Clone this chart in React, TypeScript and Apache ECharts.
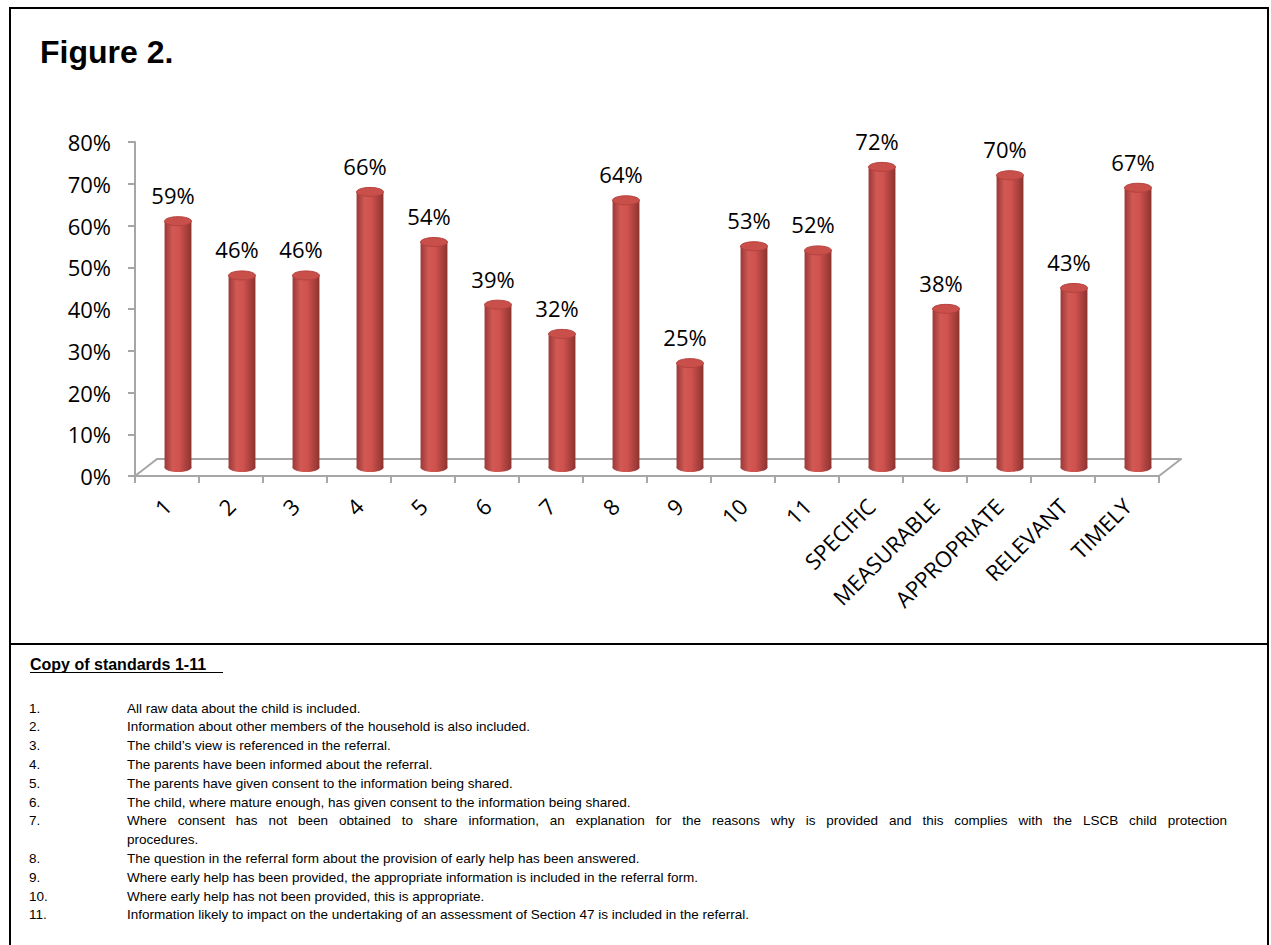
import React, { useEffect, useRef } from "react";
import * as echarts from "echarts";

const categories = ["1", "2", "3", "4", "5", "6", "7", "8", "9", "10", "11", "SPECIFIC", "MEASURABLE", "APPROPRIATE", "RELEVANT", "TIMELY"];
const values = [59, 46, 46, 66, 54, 39, 32, 64, 25, 53, 52, 72, 38, 70, 43, 67];
const yMin = 0;
const yMax = 80;
const yStep = 10;
const title = "Figure 2.";
const listHeading = "Copy of standards 1-11";
const standardNumbers = ["1.", "2.", "3.", "4.", "5.", "6.", "7.", "", "8.", "9.", "10.", "11."];
const standardLines = [
  "All raw data about the child is included.",
  "Information about other members of the household is also included.",
  "The child\u2019s view is referenced in the referral.",
  "The parents have been informed about the referral.",
  "The parents have given consent to the information being shared.",
  "The child, where mature enough, has given consent to the information being shared.",
  "Where consent has not been obtained to share information, an explanation for the reasons why is provided and this complies with the LSCB child protection",
  "procedures.",
  "The question in the referral form about the provision of early help has been answered.",
  "Where early help has been provided, the appropriate information is included in the referral form.",
  "Where early help has not been provided, this is appropriate.",
  "Information likely to impact on the undertaking of an assessment of Section 47 is included in the referral.",
];
const justifiedLine = 6;

const CHART_FONT = "'Open Sans', sans-serif";
const DOC_FONT = "'Liberation Sans', Arial, sans-serif";
const AXIS_GRAY = "#a6a6a6";

export default function App() {
  const ref = useRef<HTMLDivElement>(null);
  useEffect(() => {
    if (!ref.current) return;
    const chart = echarts.init(ref.current, undefined, { renderer: "svg" });

    const listFontSize = 13.5;
    const listFont = `${listFontSize}px 'Liberation Sans', Arial, sans-serif`;
    const ctx = document.createElement("canvas").getContext("2d")!;
    ctx.font = listFont;

    const listTop = 708;
    const listStep = 18.8;
    const numX = 29;
    const textX = 127;
    const textRight = 1227;

    const textStyle = (text: string) => ({
      text, fontFamily: DOC_FONT, fontSize: listFontSize, fill: "#000", textVerticalAlign: "middle",
    });

    const listGraphics: any[] = [];
    standardLines.forEach((line, i) => {
      const y = listTop + i * listStep;
      if (standardNumbers[i]) {
        listGraphics.push({ type: "text", x: numX, y, style: textStyle(standardNumbers[i]) });
      }
      if (i === justifiedLine) {
        const words = line.split(" ");
        const widths = words.map((w) => ctx.measureText(w).width);
        const total = widths.reduce((a, b) => a + b, 0);
        const gap = (textRight - textX - total) / (words.length - 1);
        let x = textX;
        words.forEach((w, k) => {
          listGraphics.push({ type: "text", x, y, style: textStyle(w) });
          x += widths[k] + gap;
        });
      } else {
        listGraphics.push({ type: "text", x: textX, y, style: textStyle(line) });
      }
    });

    const barGradient = () =>
      new echarts.graphic.LinearGradient(0, 0, 1, 0, [
        { offset: 0, color: "#9a3936" },
        { offset: 0.3, color: "#d25955" },
        { offset: 0.55, color: "#cf524e" },
        { offset: 1, color: "#8c3330" },
      ]);

    const option: any = {
      animation: false,
      backgroundColor: "#ffffff",
      grid: [
        { left: 135, right: 112, top: 142, bottom: 469 },
        { left: 146, right: 101, top: 133.5, bottom: 477.5 },
        { left: 157, right: 90, top: 125, bottom: 486 },
      ],
      xAxis: [
        {
          gridIndex: 0, type: "category", data: categories,
          axisLine: { lineStyle: { color: AXIS_GRAY, width: 2 } },
          axisTick: { show: true, length: 7, lineStyle: { color: AXIS_GRAY, width: 2 } },
          axisLabel: { interval: 0, rotate: 45, margin: 26, fontFamily: CHART_FONT, fontSize: 22, color: "#000" },
          splitLine: { show: false },
        },
        { gridIndex: 1, type: "category", data: categories, show: false },
        {
          gridIndex: 2, type: "category", data: categories,
          axisLine: { lineStyle: { color: AXIS_GRAY, width: 2 } },
          axisTick: { show: false }, axisLabel: { show: false }, splitLine: { show: false },
        },
      ],
      yAxis: [
        {
          gridIndex: 0, type: "value", min: yMin, max: yMax, interval: yStep,
          axisLine: { show: true, lineStyle: { color: AXIS_GRAY, width: 2 } },
          axisTick: { show: true, length: 7, lineStyle: { color: AXIS_GRAY, width: 2 } },
          axisLabel: { formatter: "{value}%", margin: 24, fontFamily: CHART_FONT, fontSize: 22, color: "#000" },
          splitLine: { show: false },
        },
        { gridIndex: 1, type: "value", min: yMin, max: yMax, show: false, splitLine: { show: false } },
        { gridIndex: 2, type: "value", min: yMin, max: yMax, show: false, splitLine: { show: false } },
      ],
      series: [
        {
          type: "custom",
          xAxisIndex: 1,
          yAxisIndex: 1,
          data: values.map((v, i) => [i, v]),
          renderItem: (params: any, api: any) => {
            const idx = api.value(0);
            const v = api.value(1);
            const top = api.coord([idx, v]);
            const base = api.coord([idx, 0]);
            const band = api.size([1, 0])[0];
            const w = band * 0.42;
            const rx = w / 2;
            const ry = 4.5;
            const cx = top[0];
            return {
              type: "group",
              children: [
                { type: "ellipse", shape: { cx, cy: base[1], rx, ry }, style: { fill: barGradient() } },
                { type: "rect", shape: { x: cx - rx, y: top[1], width: w, height: base[1] - top[1] }, style: { fill: barGradient() } },
                { type: "ellipse", shape: { cx, cy: top[1], rx, ry }, style: { fill: "#c94f4b", stroke: "#b5423e", lineWidth: 1 } },
                {
                  type: "text", x: cx - 5, y: top[1] - 26,
                  style: { text: v + "%", textAlign: "center", textVerticalAlign: "middle", fontFamily: CHART_FONT, fontSize: 22, fill: "#000" },
                },
              ],
            };
          },
        },
      ],
      graphic: [
        { type: "rect", shape: { x: 10, y: 8, width: 1258, height: 1000 }, style: { fill: "none", stroke: "#000", lineWidth: 2 } },
        { type: "line", shape: { x1: 10, y1: 644, x2: 1268, y2: 644 }, style: { stroke: "#000", lineWidth: 2 } },
        { type: "line", shape: { x1: 135, y1: 476, x2: 157, y2: 459 }, style: { stroke: AXIS_GRAY, lineWidth: 2 } },
        { type: "line", shape: { x1: 1159, y1: 476, x2: 1181, y2: 459 }, style: { stroke: AXIS_GRAY, lineWidth: 2 } },
        {
          type: "text", x: 40, y: 52,
          style: { text: title, fontFamily: DOC_FONT, fontWeight: "bold", fontSize: 32, fill: "#000", textVerticalAlign: "middle" },
        },
        {
          type: "text", x: 30, y: 664,
          style: { text: listHeading, fontFamily: DOC_FONT, fontWeight: "bold", fontSize: 16, fill: "#000", textVerticalAlign: "middle" },
        },
        { type: "line", shape: { x1: 30, y1: 672.5, x2: 223, y2: 672.5 }, style: { stroke: "#000", lineWidth: 1.2 } },
        ...listGraphics,
      ],
    };
    chart.setOption(option);
    return () => chart.dispose();
  }, []);
  return <div ref={ref} style={{ position: "fixed", left: 0, top: 0, width: 1271, height: 945 }} />;
}
